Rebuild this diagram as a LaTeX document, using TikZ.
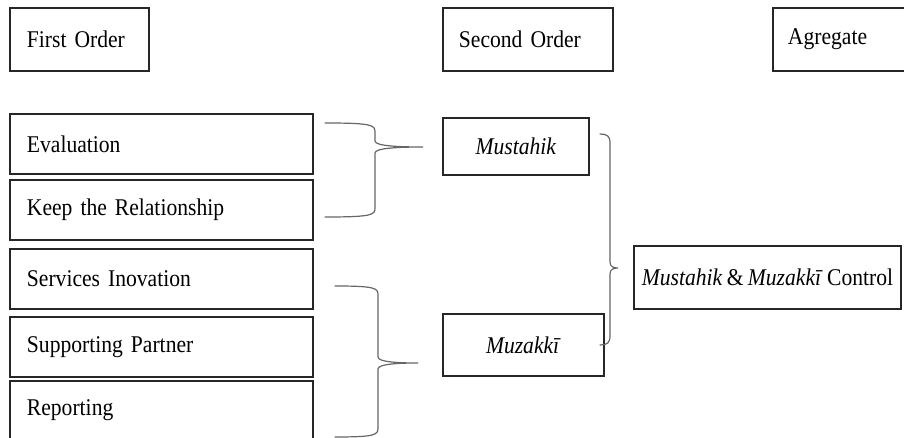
\documentclass[tikz,border=0pt]{standalone}
\usepackage{fontspec}
\setmainfont[FakeStretch=0.9, WordSpace=0.8]{Liberation Serif}
\usetikzlibrary{positioning}

\tikzset{
  box/.style={draw=black!85, line width=1.9pt, anchor=north west, inner xsep=17pt, inner ysep=0pt,
    align=left, minimum height=60pt, font=\fontsize{24}{28}\selectfont},
  ibox/.style={box, align=center, inner xsep=0pt},
  brace/.style={draw=black!60, line width=1.2pt, line cap=round},
}

% curly brace: end x, spine x, top y, tip y, bottom y, tip x
\newcommand{\groupbrace}[6]{%
  \draw[brace] (#1,#3) .. controls (#2-3,#3) and (#2,#3+2) .. (#2,#3+9) -- (#2,#4-6)
    .. controls (#2,#4-1) and ({(#2+#6)/2},#4) .. (#6,#4)
    .. controls ({(#2+#6)/2},#4) and (#2,#4+1) .. (#2,#4+6) -- (#2,#5-9)
    .. controls (#2,#5-2) and (#2-3,#5) .. (#1,#5);}

\begin{document}
\begin{tikzpicture}[x=1pt, y=-1pt]
\useasboundingbox (0,0) rectangle (904,438);

% headings
\node (first) [box, text width=105pt, minimum height=63pt] at (9,7) {First Order};
\node (second) [box, text width=138pt, minimum height=63pt, inner xsep=16pt] at (442,7) {Second Order};
\node (agg) [box, text width=120pt, minimum height=63pt, inner xsep=15pt] at (772,7) {Agregate};

% first order concepts
\node (eval) [box, text width=269pt] at (9,113) {Evaluation};
\node (keep) [box, text width=269pt, below=4pt of eval] {Keep the Relationship};
\node (serv) [box, text width=269pt, below=7pt of keep] {Services Inovation};
\node (supp) [box, text width=269pt, below=6pt of serv] {Supporting Partner};
\node (rep) [box, text width=269pt, below=2pt of supp] {Reporting};

% second order themes
\node (must) [ibox, minimum width=146pt, minimum height=57pt] at (442,117) {\textit{Mustahik}};
\node (muz) [ibox, minimum width=161pt, minimum height=62pt] at (442,313) {\textit{Muzakkī}};

% aggregate
\node (ctrl) [ibox, minimum width=267pt, minimum height=63pt] at (633,245) {\textit{Mustahik} \& \textit{Muzakkī} Control};

% braces
\groupbrace{325}{375}{123}{147}{217}{423}
\groupbrace{335}{378}{286}{363}{437}{418}
\groupbrace{600}{610}{134}{268}{345}{618}
\end{tikzpicture}
\end{document}
